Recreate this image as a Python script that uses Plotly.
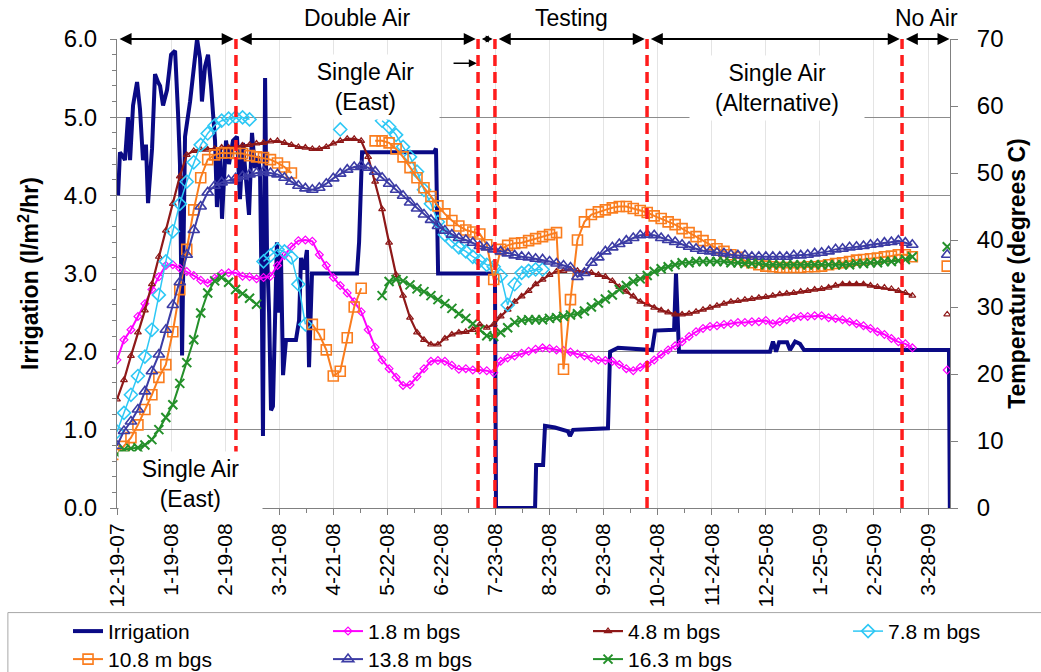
import pandas as pd
import plotly.graph_objects as go

FONT = "Liberation Sans, Arial, Helvetica, sans-serif"
START = pd.Timestamp("2007-12-19")
AXIS_END_DAY = 477.6          # right edge of the date axis (days after START)
STEP_DAYS = 4                 # temperature readings every 4 days

# ---------------- data ----------------
# Irrigation (l/m2/hr): day offset from START, value
IRR_DAY = [0.6, 1.7, 3.4, 4.6, 6.3, 7.5, 9.2, 11.5, 13.2, 14.9, 16.6, 17.8, 20.1, 21.8, 23.5, 24.7,
           26.4, 28.7, 31.0, 33.3, 35.0, 36.1, 37.3, 39.0, 41.9, 43.6, 45.9, 47.6, 48.7, 50.5, 52.2,
           53.9, 56.2, 57.3, 59.1, 60.2, 62.5, 64.2, 66.5, 68.8, 70.5, 72.2, 74.5, 75.7, 77.4, 79.1,
           80.8, 82.0, 83.1, 83.7, 84.9, 86.0, 87.2, 88.3, 89.4, 90.6, 91.7, 92.9, 94.0, 95.2, 96.9,
           102.6, 104.4, 105.5, 107.2, 108.9, 110.1, 111.8, 137.6, 138.8, 140.5, 181.8, 182.9, 184.1,
           216.7, 217.3, 239.7, 240.3, 244.3, 245.4, 251.1, 258.6, 259.7, 261.5, 281.5, 282.7, 287.3,
           306.8, 308.5, 319.4, 320.5, 322.2, 374.4, 376.1, 377.9, 379.6, 384.2, 385.9, 388.8, 391.6,
           393.9, 477.0, 477.5]
IRR_VAL = [4.0, 4.55, 4.5, 4.45, 5.0, 4.45, 5.15, 5.45, 5.1, 4.45, 4.65, 3.9, 4.6, 5.55, 5.45, 5.4,
           5.15, 5.35, 5.8, 5.85, 5.05, 4.4, 1.95, 4.75, 5.2, 5.55, 6.0, 5.75, 5.2, 5.65, 5.8,
           5.4, 4.7, 3.85, 4.6, 3.7, 4.7, 4.4, 4.7, 4.75, 3.95, 4.67, 4.1, 3.75, 4.8, 4.35,
           4.5, 4.3, 2.5, 0.92, 5.5, 3.3, 2.5, 1.25, 1.3, 2.4, 3.4, 2.5, 3.25, 1.7, 2.15,
           2.15, 2.4, 3.2, 3.05, 3.3, 1.8, 3.0, 3.0, 3.4, 4.55, 4.55, 4.6, 3.0,
           3.0, 0.0, 0.0, 0.55, 0.55, 1.05, 1.03, 0.98, 0.92, 1.0, 1.02, 2.0, 2.05,
           2.02, 2.27, 2.28, 3.0, 2.0, 2.0, 2.13, 2.0, 2.12, 2.12, 2.02, 2.13, 2.1,
           2.02, 2.02, 0.0]

N = None
# Temperatures (degrees C), one value per 4-day step starting at START
T_1_8 = [22.1, 25.1, 26.6, 28.6, 30.5, 32.6, 34.5, 36.2, 36.3, 35.8, 35.3, 34.7, 34.0, 33.6, 34.3, 35.0,
         35.1, 35.1, 34.6, 34.5, 34.2, 34.4, 34.6, 36.2, 37.7, 39.0, 39.9, 40.0, 39.8, 37.8, 36.2, 34.4,
         33.2, 32.1, 30.8, 29.3, 26.6, 24.0, 22.1, 20.8, 19.5, 18.3, 18.4, 19.6, 20.8, 21.9, 22.0, 21.9,
         21.3, 20.7, 20.8, 20.6, 20.6, 20.5, 20.2, 21.9, 22.4, 22.7, 23.1, 23.4, 23.7, 23.9, 23.8, 23.6,
         23.5, 23.3, 23.0, 22.7, 22.4, 22.1, 22.0, 21.9, 21.4, 20.8, 20.5, 21.0, 21.4, 22.1, 22.9, 23.6,
         24.2, 24.8, 25.6, 26.3, 26.8, 27.1, 27.2, 27.4, 27.5, 27.7, 27.7, 27.8, 27.8, 28.0, 27.5, 27.8,
         28.1, 28.4, 28.6, 28.6, 28.7, 28.7, 28.4, 28.3, 28.1, 27.8, 27.5, 27.2, 26.8, 26.3, 25.9, 25.3,
         24.8, 24.5, 23.9, N, N, N, N, 20.6]
T_4_8 = [16.2, 19.1, 22.7, 26.2, 29.5, 33.4, 37.5, 41.4, 45.4, 49.5, 52.7, 53.3, 53.5, 53.5, 53.6, 53.8,
         53.8, 53.9, 54.1, 54.2, 54.4, 54.5, 54.7, 54.8, 54.5, 54.2, 53.9, 53.8, 53.6, 53.6, 53.9, 54.4,
         54.8, 55.1, 55.1, 54.8, 52.4, 48.7, 44.6, 39.6, 34.8, 31.7, 28.4, 26.2, 25.1, 24.4, 24.4, 25.3,
         25.9, 26.2, 26.3, 26.6, 27.4, 26.9, 27.4, 28.6, 29.6, 30.8, 31.6, 32.4, 33.4, 34.1, 34.8, 35.3,
         35.4, 35.6, 35.4, 35.3, 35.1, 34.8, 34.5, 33.9, 33.0, 32.3, 31.6, 30.8, 30.4, 29.9, 29.5, 29.2,
         28.9, 28.9, 29.0, 29.3, 29.6, 29.9, 30.2, 30.5, 30.8, 30.9, 31.1, 31.2, 31.4, 31.5, 31.7, 31.9,
         32.0, 32.1, 32.3, 32.4, 32.6, 32.7, 32.9, 33.2, 33.4, 33.4, 33.4, 33.4, 33.2, 33.0, 32.9, 32.7,
         32.4, 32.1, 31.7, N, N, N, N, 28.9]
T_7_8 = [11.4, 14.2, 16.9, 19.7, 22.6, 26.6, 31.8, 36.8, 41.3, 45.4, 48.7, 51.6, 54.2, 55.9, 57.1, 57.8,
         58.1, 58.3, 58.3, 58.0, N, 36.8, 37.7, 38.6, 38.3, 37.4, 33.4, 27.4, N, N, N, N,
         56.5, N, N, N, N, N, 57.8, 56.9, 55.7, 53.9, 52.4, 50.2, 47.5, 45.4, 42.7, 40.8,
         39.8, 38.9, 38.3, 37.5, 36.9, 36.3, 36.0, 34.7, 30.3, 33.4, 35.1, 35.4, 35.6, 35.6, N, N,
         N, N, N, N, N, N, N, N, N, N, N, N, N, N, N, N,
         N, N, N, N, N, N, N, N, N, N, N, N, N, N, N, N,
         N, N, N, N, N, N, N, N, N, N, N, N, N, N, N, N,
         N, N, N, N, N, N, N, N]
T_10_8 = [8.0, 9.2, 10.5, 12.4, 14.7, 16.9, 19.5, 21.4, 26.3, 32.6, 38.6, 44.5, 49.3, 52.0, 52.7, 53.0,
          53.0, 52.9, 52.9, 52.6, 52.4, 52.3, 52.0, 51.5, 50.9, 50.0, N, N, 27.4, 25.9, 23.6, 19.7,
          20.4, 25.4, 30.0, 32.8, N, 54.8, 54.8, 54.5, 53.6, 52.4, 50.8, 49.3, 47.8, 46.5, 45.1, 43.9,
          42.9, 42.1, 41.5, 41.2, 40.9, 39.3, 34.1, 38.6, 39.2, 39.5, 39.6, 39.9, 40.2, 40.5, 40.8, 41.1,
          20.7, 31.1, 40.0, 42.7, 43.8, 44.2, 44.5, 44.8, 45.0, 45.0, 44.7, 44.4, 44.1, 43.6, 43.2, 42.7,
          42.3, 41.7, 41.1, 40.5, 39.9, 39.3, 38.7, 38.3, 37.8, 37.4, 36.9, 36.6, 36.3, 36.1, 36.0, 35.9,
          35.9, 35.9, 35.9, 36.0, 36.0, 36.1, 36.3, 36.5, 36.6, 36.8, 37.0, 37.1, 37.2, 37.3, 37.5, 37.6,
          37.8, 37.8, 37.5, N, N, N, N, 36.1]
T_13_8 = [9.3, 11.5, 12.9, 14.7, 17.4, 20.4, 22.9, 26.6, 30.3, 33.7, 37.8, 41.5, 45.0, 47.1, 48.1, 48.6,
          48.9, 49.2, 49.5, 49.8, 50.0, 50.2, 50.0, 49.8, 49.3, 48.7, 48.1, 47.7, 47.5, 47.8, 48.4, 49.2,
          49.9, 50.5, 50.9, 51.1, 50.8, 50.2, 49.3, 48.4, 47.5, 46.6, 45.6, 44.7, 43.8, 43.0, 42.1, 41.4,
          40.8, 40.3, 40.0, 39.6, 39.1, 38.9, 38.6, 38.3, 38.0, 37.7, 37.5, 37.4, 37.2, 37.1, 36.8, 36.5,
          36.2, 35.9, 34.5, 35.1, 36.6, 37.4, 38.3, 38.9, 39.4, 39.9, 40.3, 40.7, 40.8, 40.7, 40.3, 40.0,
          39.7, 39.3, 39.0, 38.7, 38.4, 38.3, 38.1, 38.0, 37.8, 37.7, 37.7, 37.5, 37.5, 37.5, 37.5, 37.5,
          37.5, 37.7, 37.7, 37.8, 38.0, 38.1, 38.3, 38.6, 38.7, 38.9, 39.0, 39.1, 39.3, 39.4, 39.6, 39.7,
          39.9, 39.6, 39.3, N, N, N, N, 37.8]
T_16_3 = [8.0, 8.7, 8.9, 9.0, 9.4, 10.2, 11.7, 13.5, 15.4, 18.6, 21.7, 25.1, 29.1, 32.1, 33.9, 34.4,
          33.7, 32.6, 32.0, 31.3, 30.4, N, N, N, N, N, N, N, N, N, N, N,
          N, N, N, N, N, N, 31.7, 33.8, 34.1, 33.9, 33.3, 32.7, 32.3, 31.7, 31.1, 30.5,
          29.8, 29.0, 28.3, 27.5, 26.6, 25.7, 25.6, 26.2, 26.9, 27.7, 28.0, 28.1, 28.1, 28.1, 28.3, 28.4,
          28.6, 28.8, 29.0, 29.4, 30.0, 30.6, 31.2, 31.8, 32.6, 33.2, 33.8, 34.2, 34.7, 35.3, 35.7, 36.0,
          36.3, 36.6, 36.6, 36.8, 36.8, 36.8, 36.8, 36.8, 36.6, 36.6, 36.5, 36.5, 36.5, 36.3, 36.3, 36.3,
          36.3, 36.3, 36.3, 36.3, 36.3, 36.3, 36.3, 36.3, 36.3, 36.3, 36.5, 36.5, 36.6, 36.6, 36.8, 36.8,
          36.9, 37.1, 37.5, N, N, N, N, 39.0]

SERIES_NAMES = ["1.8 m bgs", "4.8 m bgs", "7.8 m bgs", "10.8 m bgs", "13.8 m bgs", "16.3 m bgs"]
SERIES_VALUES = [T_1_8, T_4_8, T_7_8, T_10_8, T_13_8, T_16_3]

# operating periods: boundaries (day offsets) marked by red dashed lines
PERIOD_LINES = [68.2, 207.0, 216.7, 303.9, 450.1]
TOP_LABELS = [("Double Air", 1), ("Testing", 3), ("No Air", 5)]   # label, period index
X_TICK_STEP_DAYS = 31

# ---------------- styles ----------------
STYLE = {
    "1.8 m bgs": dict(color="#FF00FF", symbol="diamond-open", size=6, lw=2.0, mlw=1.2),
    "4.8 m bgs": dict(color="#8E1818", symbol="triangle-up-open", size=6, lw=2.2, mlw=1.2),
    "7.8 m bgs": dict(color="#2EC8F5", symbol="diamond-open", size=10, lw=1.5, mlw=1.6),
    "10.8 m bgs": dict(color="#FA7D1E", symbol="square-open", size=10, lw=2.0, mlw=1.6),
    "13.8 m bgs": dict(color="#3C3CA5", symbol="triangle-up-open", size=10, lw=2.0, mlw=1.6),
    "16.3 m bgs": dict(color="#24902A", symbol="x-thin-open", size=9, lw=2.0, mlw=2.0),
}
LEGEND_OF = {"1.8 m bgs": "legend", "4.8 m bgs": "legend", "7.8 m bgs": "legend3",
             "10.8 m bgs": "legend2", "13.8 m bgs": "legend2", "16.3 m bgs": "legend2"}


def day(d):
    return START + pd.Timedelta(days=d)


def ds(d):
    return day(d).strftime("%Y-%m-%d %H:%M:%S")


grid = [day(STEP_DAYS * i) for i in range(len(T_1_8))]

fig = go.Figure()
fig.add_trace(go.Scatter(
    x=[day(d) for d in IRR_DAY], y=IRR_VAL, name="Irrigation", mode="lines",
    line=dict(color="#0A0A85", width=4), yaxis="y", legend="legend"))

for name, vals in zip(SERIES_NAMES, SERIES_VALUES):
    st = STYLE[name]
    fig.add_trace(go.Scatter(
        x=grid, y=vals, name=name, mode="lines+markers", yaxis="y2",
        legend=LEGEND_OF[name], connectgaps=False,
        line=dict(color=st["color"], width=st["lw"]),
        marker=dict(symbol=st["symbol"], size=st["size"], color=st["color"],
                    line=dict(color=st["color"], width=st["mlw"]))))

# ---------------- shapes: red dashed period lines, legend frame ----------------
shapes = []
for b in PERIOD_LINES:
    shapes.append(dict(type="line", xref="x", yref="paper", x0=day(b), x1=day(b), y0=0, y1=1,
                       line=dict(color="#FF1C1C", width=3.5, dash="11px,6px"), layer="above"))
shapes.append(dict(type="rect", xref="paper", yref="paper", x0=-0.131, x1=1.12, y0=-0.223, y1=-0.40,
                   line=dict(color="#A8A8A8", width=1), fillcolor="rgba(0,0,0,0)", layer="below"))

# ---------------- annotations ----------------
anns = []
bounds = [0.0] + PERIOD_LINES + [AXIS_END_DAY]
GAP = 1.3
for i in range(len(bounds) - 1):
    a = bounds[i] + (0.6 if i == 0 else GAP)
    b = bounds[i + 1] - (0.3 if i == len(bounds) - 2 else GAP)
    small = (b - a) < 15
    anns.append(dict(x=ds(b), y=6.0, ax=ds(a), ay=6.0, xref="x", yref="y", axref="x", ayref="y",
                     text="", showarrow=True, arrowside="end+start", arrowhead=2, startarrowhead=2,
                     arrowsize=0.7 if small else 1.2, startarrowsize=0.7 if small else 1.2,
                     arrowwidth=2, arrowcolor="black", standoff=0, startstandoff=0))
for label, pi in TOP_LABELS:
    mid = (bounds[pi] + bounds[pi + 1]) / 2
    anns.append(dict(x=ds(mid), y=1.0445, xref="x", yref="paper", text=label, showarrow=False,
                     font=dict(size=23, family=FONT, color="black"), yanchor="middle"))
# boxed labels
anns.append(dict(x=ds(142.2), y=5.39, xref="x", yref="y", text="Single Air<br>(East)", showarrow=False,
                 font=dict(size=23, family=FONT, color="black"), bgcolor="white", width=145, height=62,
                 yanchor="middle"))
anns.append(dict(x=ds(378.4), y=5.37, xref="x", yref="y", text="Single Air<br>(Alternative)",
                 showarrow=False, font=dict(size=23, family=FONT, color="black"), bgcolor="white",
                 width=172, height=62, yanchor="middle"))
anns.append(dict(x=ds(41.9), y=0.735, xref="x", yref="y", text="Single Air<br>(East)", showarrow=False,
                 font=dict(size=23, family=FONT, color="black"), bgcolor="white", width=141, height=62,
                 yanchor="top"))
# pointer arrow to the short single-air period
anns.append(dict(x=ds(206.3), y=5.69, ax=ds(192.1), ay=5.69, xref="x", yref="y", axref="x", ayref="y",
                 text="", showarrow=True, arrowhead=2, arrowsize=1.0, arrowwidth=1.6,
                 arrowcolor="black", standoff=0))

DAY_MS = 86400000
fig.update_layout(
    width=1041, height=672,
    margin=dict(l=117, r=91, t=39, b=164, autoexpand=False),
    paper_bgcolor="white", plot_bgcolor="white",
    font=dict(family=FONT, size=21, color="black"),
    showlegend=True,
    xaxis=dict(type="date", range=[day(0), day(AXIS_END_DAY)], tick0=day(0),
               dtick=X_TICK_STEP_DAYS * DAY_MS, tickformat="%-m-%d-%y", tickangle=-90,
               ticks="outside", ticklen=6, tickcolor="#808080", showline=True, linecolor="#808080",
               linewidth=1, showgrid=True, gridcolor="#E4E4E4", gridwidth=1, zeroline=False,
               tickfont=dict(size=21, family=FONT, color="black"),
               minor=dict(tick0=day(0), dtick=X_TICK_STEP_DAYS / 2 * DAY_MS, ticks="outside",
                          ticklen=4, tickcolor="#808080", showgrid=False)),
    yaxis=dict(range=[0, 6], dtick=1, tickformat=".1f", ticks="outside", ticklen=6,
               tickcolor="#808080", showline=True, linecolor="#808080", showgrid=True,
               gridcolor="#8C8C8C", gridwidth=1, zeroline=False, ticklabelstandoff=8,
               tickfont=dict(size=24, family=FONT, color="black"),
               minor=dict(dtick=0.2, ticks="outside", ticklen=4, tickcolor="#808080", showgrid=False),
               title=dict(text="<b>Irrigation (l/m<sup>2</sup>/hr)</b>",
                          font=dict(size=23, family=FONT, color="black"), standoff=18)),
    yaxis2=dict(range=[0, 70], dtick=10, overlaying="y", side="right", ticks="outside", ticklen=7,
                tickcolor="#808080", showline=True, linecolor="#808080", showgrid=False,
                zeroline=False, ticklabelstandoff=14,
                tickfont=dict(size=24, family=FONT, color="black"),
                title=dict(text="<b>Temperature (degrees C)</b>",
                           font=dict(size=23, family=FONT, color="black"), standoff=2)),
    legend=dict(x=-0.0588, xanchor="left", y=-0.2195, yanchor="top", orientation="h",
                entrywidth=215, entrywidthmode="pixels", itemwidth=30, bgcolor="rgba(0,0,0,0)",
                borderwidth=0, font=dict(size=21, family=FONT, color="black")),
    legend2=dict(x=-0.0588, xanchor="left", y=-0.2792, yanchor="top", orientation="h",
                 entrywidth=215, entrywidthmode="pixels", itemwidth=30, bgcolor="rgba(0,0,0,0)",
                 borderwidth=0, font=dict(size=21, family=FONT, color="black")),
    legend3=dict(x=0.8776, xanchor="left", y=-0.2195, yanchor="top", orientation="h",
                 entrywidth=215, entrywidthmode="pixels", itemwidth=30, bgcolor="rgba(0,0,0,0)",
                 borderwidth=0, font=dict(size=21, family=FONT, color="black")),
    shapes=shapes,
    annotations=anns,
)

# remove the default page margin so the 1041x672 figure fills the window exactly
fig.write_html("out.html", config={"displayModeBar": False},
               post_script="document.body.style.margin='0';document.body.style.overflow='hidden';")
